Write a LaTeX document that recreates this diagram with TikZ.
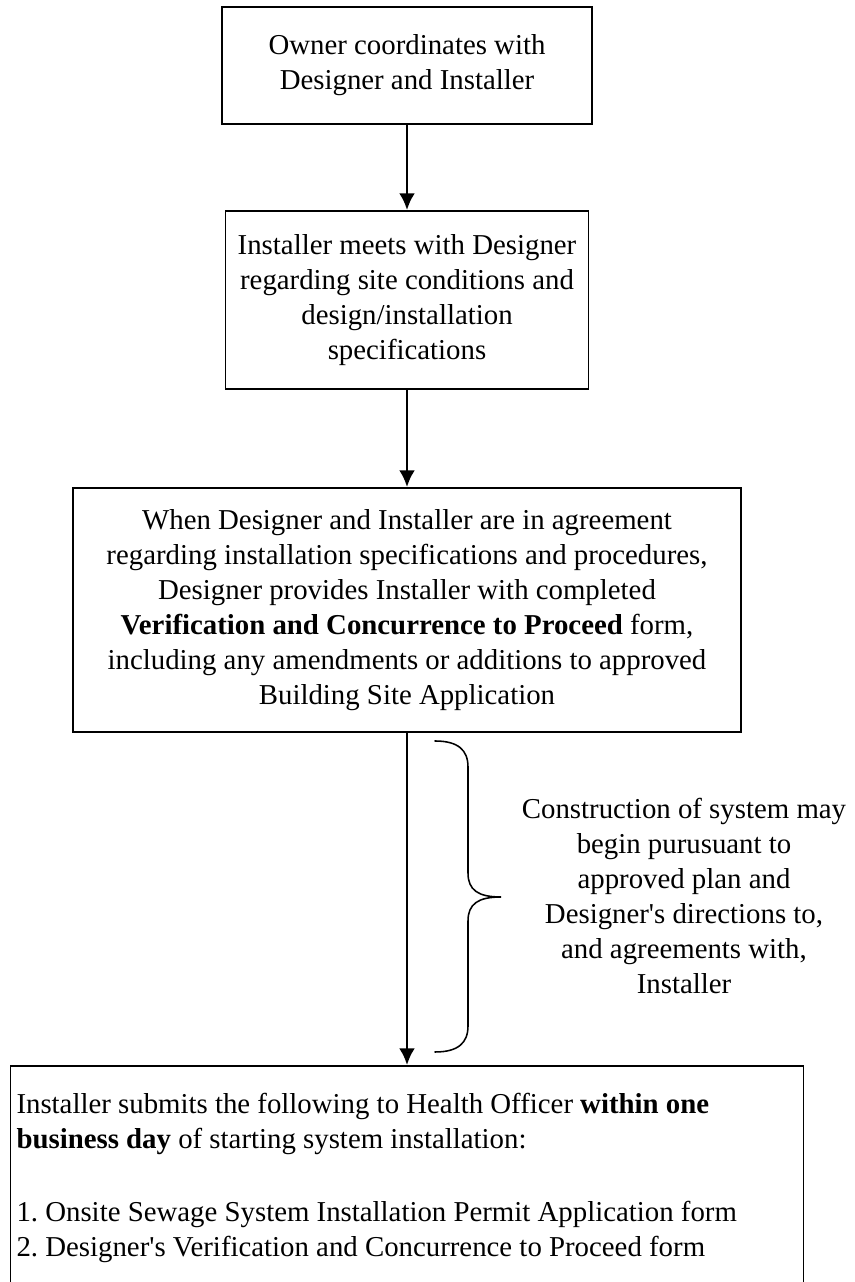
\documentclass[tikz,border=0pt]{standalone}
\usepackage{fontspec}
\setmainfont{Liberation Serif}
\frenchspacing
\usetikzlibrary{arrows.meta}
\tikzset{every node/.style={align=center, font=\fontsize{20.5}{24.9}\selectfont}}
\tikzset{box/.style={draw, line width=1.3pt, inner sep=0pt}}
\tikzset{flow/.style={line width=2pt, -{Latex[length=0.42cm, width=0.4cm]}}}
\tikzset{brace/.style={line width=1.1pt, line cap=round}}

\begin{document}
\begin{tikzpicture}

		% Frame
		\useasboundingbox (0,0) rectangle (21.35,32.05);

		% Coordinates
		%% Boxes
		\coordinate (c1) at (10.175,30.41);
		\coordinate (c2) at (10.175,24.55);
		\coordinate (c3) at (10.175,16.8);
		\coordinate (c4) at (10.175,2.6);
		%% Note
		\coordinate (n) at (17.1,9.65);

		% Boxes
		\node[box, minimum width=9.25cm, minimum height=2.925cm] (owner) at (c1)
			{Owner coordinates with\\Designer and Installer};
		\node[box, minimum width=9.075cm, minimum height=4.45cm] (meet) at (c2)
			{Installer meets with Designer\\regarding site conditions and\\design/installation\\specifications};
		\node[box, minimum width=16.7cm, minimum height=6.1cm] (agree) at (c3)
			{When Designer and Installer are in agreement\\regarding installation specifications and procedures,\\Designer provides Installer with completed\\\textbf{Verification and Concurrence to Proceed} form,\\including any amendments or additions to approved\\Building Site Application};
		\node[box, minimum width=19.825cm, minimum height=5.6cm, align=flush left, text width=19.525cm, inner xsep=0.15cm] (submit) at (c4)
			{Installer submits the following to Health Officer \textbf{within one}\\\textbf{business day} of starting system installation:\\[27pt]1. Onsite Sewage System Installation Permit Application form\\2. Designer\textquotesingle s Verification and Concurrence to Proceed form};

		% Arrows
		\draw[flow] (owner) -- (meet);
		\draw[flow] (meet) -- (agree);
		\draw[flow] (agree) -- (submit);

		% Brace
		\draw[brace] (10.875,13.525) .. controls (11.45,13.525) and (11.7,13.3) .. (11.7,12.875)
			-- (11.7,10.225) .. controls (11.7,9.8) and (11.95,9.625) .. (12.525,9.625)
			.. controls (11.95,9.625) and (11.7,9.45) .. (11.7,9.025)
			-- (11.7,6.4) .. controls (11.7,5.975) and (11.45,5.75) .. (10.875,5.75);

		% Nodes
		\node (note) at (n) {Construction of system may\\begin purusuant to\\approved plan and\\Designer\textquotesingle s directions to,\\and agreements with,\\Installer};
	\end{tikzpicture}
\end{document}
